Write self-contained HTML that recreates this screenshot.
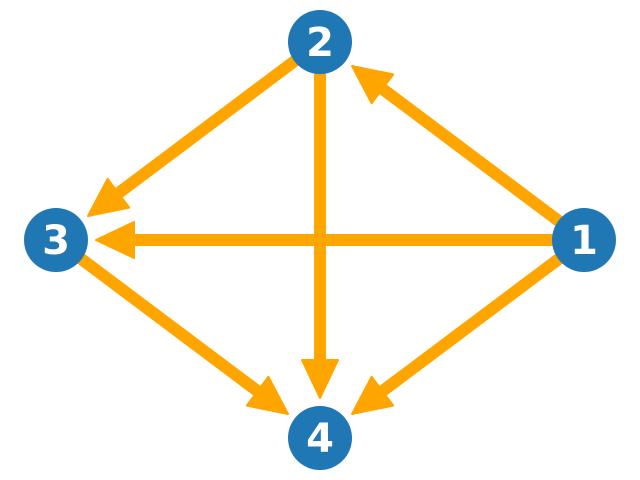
<!DOCTYPE html>
<html>
<head>
<meta charset="utf-8">
<style>
  html, body { margin: 0; padding: 0; background: #ffffff; }
  svg { display: block; }
</style>
</head>
<body>
<svg id="chart" width="640" height="480" viewBox="0 0 640 480" xmlns="http://www.w3.org/2000/svg">
  <g id="edges"></g>
  <g id="nodes"></g>
</svg>
<script>
const nodeIds = ["1", "2", "3", "4"];
const nodeX = [1.0, 0.0, -1.0, 0.0];
const nodeY = [0.0, 0.75, 0.0, -0.75];
const edgeSource = ["1", "1", "1", "2", "2", "3"];
const edgeTarget = ["2", "3", "4", "3", "4", "4"];

const svgNS = "http://www.w3.org/2000/svg";
const R = 32;
function sx(v) { return 320 + v * 264; }
function sy(v) { return 240 - v * 264; }

const edgesG = document.getElementById("edges");
const nodesG = document.getElementById("nodes");

function pos(id) {
  const i = nodeIds.indexOf(id);
  return [sx(nodeX[i]), sy(nodeY[i])];
}

for (let k = 0; k < edgeSource.length; k++) {
  const [x1, y1] = pos(edgeSource[k]);
  const [x2, y2] = pos(edgeTarget[k]);
  const dx = x2 - x1, dy = y2 - y1;
  const L = Math.hypot(dx, dy);
  const ux = dx / L, uy = dy / L;
  const tipX = x2 - ux * (R + 8), tipY = y2 - uy * (R + 8);
  const headL = 38, headW = 18;
  const bx = tipX - ux * headL, by = tipY - uy * headL;
  const g = document.createElementNS(svgNS, "g");
  
  
  const line = document.createElementNS(svgNS, "line");
  
  
  line.setAttribute("x1", x1); line.setAttribute("y1", y1);
  line.setAttribute("x2", bx + ux * 4); line.setAttribute("y2", by + uy * 4);
  line.setAttribute("stroke", "#ffa500");
  line.setAttribute("stroke-width", "12");
  g.appendChild(line);
  const head = document.createElementNS(svgNS, "polygon");
  
  
  const px = -uy, py = ux;
  head.setAttribute("points",
    tipX + "," + tipY + " " +
    (bx + px * headW) + "," + (by + py * headW) + " " +
    (bx - px * headW) + "," + (by - py * headW));
  head.setAttribute("fill", "#ffa500");
  head.setAttribute("stroke", "#ffa500");
  head.setAttribute("stroke-width", "2");
  head.setAttribute("stroke-linejoin", "round");
  g.appendChild(head);
  edgesG.appendChild(g);
}

for (let i = 0; i < nodeIds.length; i++) {
  const cx = sx(nodeX[i]), cy = sy(nodeY[i]);
  const g = document.createElementNS(svgNS, "g");
  
  
  const c = document.createElementNS(svgNS, "circle");
  
  
  c.setAttribute("cx", cx); c.setAttribute("cy", cy); c.setAttribute("r", R);
  c.setAttribute("fill", "#1f77b4");
  g.appendChild(c);
  const t = document.createElementNS(svgNS, "text");
  
  
  t.setAttribute("x", cx); t.setAttribute("y", cy + 14);
  t.setAttribute("text-anchor", "middle");
  t.setAttribute("font-family", "DejaVu Sans, Liberation Sans, sans-serif");
  t.setAttribute("font-weight", "bold");
  t.setAttribute("font-size", "40");
  t.setAttribute("fill", "#ffffff");
  t.textContent = nodeIds[i];
  g.appendChild(t);
  nodesG.appendChild(g);
}
</script>
</body>
</html>
